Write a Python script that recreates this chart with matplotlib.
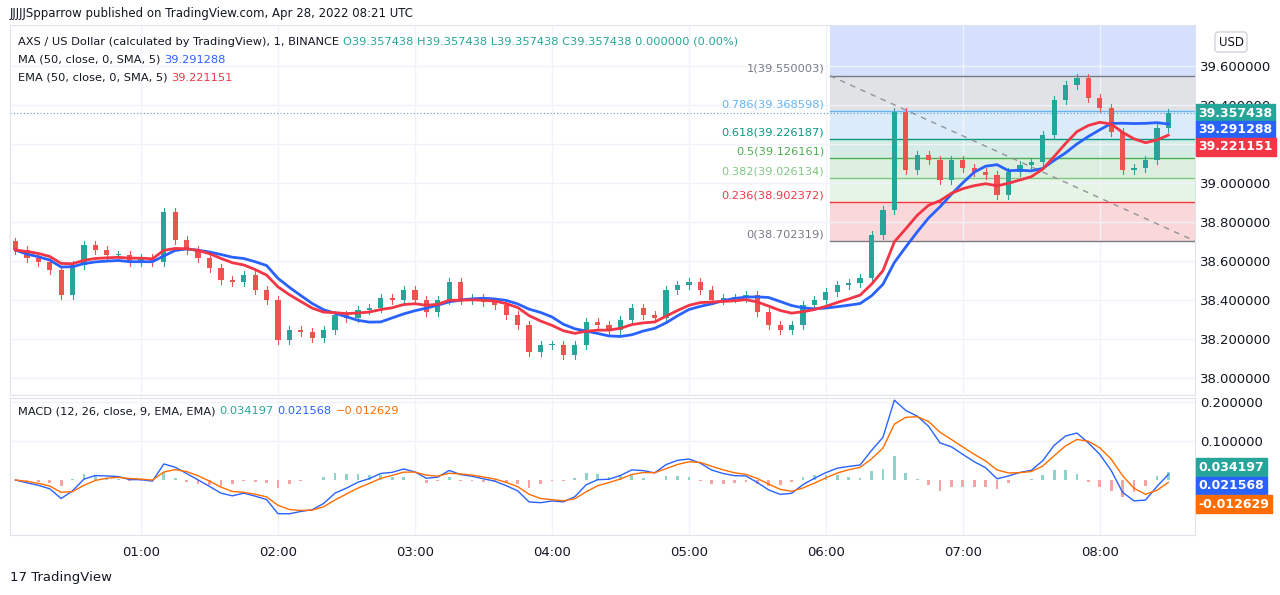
import numpy as np
import pandas as pd
import matplotlib
matplotlib.use("Agg")
import matplotlib.pyplot as plt

# ---- data (5-minute bars, minutes after 00:00) ----
closes = [38.656,38.615,38.595,38.554,38.426,38.579,38.682,38.656,38.631,38.631,38.595,38.615,
          38.595,38.851,38.708,38.656,38.615,38.564,38.503,38.492,38.528,38.451,38.400,38.195,
          38.246,38.236,38.205,38.246,38.323,38.308,38.349,38.359,38.410,38.400,38.451,38.400,
          38.338,38.400,38.492,38.400,38.410,38.390,38.374,38.323,38.272,38.133,38.169,38.169,
          38.118,38.169,38.287,38.272,38.246,38.297,38.359,38.323,38.308,38.451,38.477,38.492,
          38.451,38.400,38.410,38.410,38.426,38.338,38.272,38.246,38.272,38.374,38.400,38.441,
          38.477,38.487,38.513,38.733,38.862,39.364,39.067,39.144,39.118,39.015,39.118,39.077,
          39.056,39.041,38.938,39.056,39.092,39.108,39.246,39.426,39.503,39.538,39.436,39.385,
          39.262,39.067,39.077,39.118,39.282,39.357]
first_open = 38.700
hour_ticks = [60,120,180,240,300,360,420,480]
hour_labels = ["01:00","02:00","03:00","04:00","05:00","06:00","07:00","08:00"]
price_ticks = [38.0,38.2,38.4,38.6,38.8,39.0,39.2,39.4,39.6]
macd_ticks = [0.1,0.2]
fib_ratios = [1,0.786,0.618,0.5,0.382,0.236,0]
fib_prices = [39.550003,39.368598,39.226187,39.126161,39.026134,38.902372,38.702319]
last_vals = {"close":39.357438,"ma":39.291288,"ema":39.221151}
macd_last = [0.034197,0.021568,-0.012629]

n = len(closes)
mins = np.arange(1, n+1)*5.0
c = np.array(closes)
o = np.concatenate([[first_open], c[:-1]])

UP, DN = "#26a69a", "#ef5350"
BLUE, RED, ORANGE = "#2962ff", "#f23645", "#ff6d00"
GRID = "#f0f3fa"

s = pd.Series(c)
ma = s.rolling(10, min_periods=1).mean().values
ema = s.ewm(span=10, adjust=False).mean().values
macd = (s.ewm(span=4, adjust=False).mean() - s.ewm(span=8, adjust=False).mean()).values
sig = pd.Series(macd).ewm(span=3, adjust=False).mean().values
hist = macd - sig

fig = plt.figure(figsize=(12.8,5.95), dpi=100)
fig.patch.set_facecolor("white")
ax = fig.add_axes([10/1280, 1-395/595, 1185/1280, 370/595])
ax2 = fig.add_axes([10/1280, 1-535/595, 1185/1280, 137/595])
XL = (2.6, 521.7)

for a in (ax, ax2):
    a.set_xlim(*XL)
    for sp in a.spines.values():
        sp.set_color("#e0e3eb")
    a.yaxis.tick_right()
    a.tick_params(length=0, labelsize=9.5, colors="#131722")
    a.set_xticks(hour_ticks)
    a.grid(True, color=GRID, lw=1)
    a.set_axisbelow(True)
ax.set_xticklabels([])
ax2.set_xticklabels(hour_labels)
ax2.tick_params(axis="x", pad=8)
ax.set_ylim(37.913, 39.810)
ax.set_yticks(price_ticks)
ax.set_yticklabels([f"{v:.6f}" for v in price_ticks])
ax2.set_ylim(-0.141, 0.210)
ax2.set_yticks(macd_ticks)
ax2.set_yticklabels([f"{v:.6f}" for v in macd_ticks])

# fib retracement
fx0 = 361.8
fills = ["#e1e2e6","#dcebf9","#d5ece6","#dcefde","#e6f4e6","#fad8da"]
lcols = ["#787b86","#64b5f6","#089981","#4caf50","#81c784","#f23645","#787b86"]
ax.fill_between([fx0, XL[1]], fib_prices[0], 39.810, color="#d4e0fd", lw=0, zorder=0.5)
for i in range(6):
    ax.fill_between([fx0, XL[1]], fib_prices[i+1], fib_prices[i], color=fills[i], lw=0, zorder=0.5)
for r, p, lc in zip(fib_ratios, fib_prices, lcols):
    ax.plot([fx0, XL[1]], [p, p], color=lc, lw=1, zorder=1)
    ax.text(fx0-2.5, p+0.035, f"{r}({p:.6f})", color=lc, fontsize=8.2, ha="right", va="center")
ax.plot([fx0, XL[1]], [fib_prices[0], fib_prices[-1]], color="#909399", lw=1, ls=(0,(4,4)), zorder=1)

# candles
w = 2.3
for m, oo, cc in zip(mins, o, c):
    col = UP if cc >= oo else DN
    lo, hi = min(oo, cc), max(oo, cc)
    ax.plot([m, m], [lo-0.02, hi+0.02], color=col, lw=0.8, zorder=3)
    ax.bar(m, max(hi-lo, 0.004), bottom=lo, width=w, color=col, lw=0, zorder=3)
ax.plot(mins, ma, color=BLUE, lw=2, zorder=4)
ax.plot(mins, ema, color=RED, lw=2, zorder=4)
ax.axhline(last_vals["close"], color="#5b9cc8", lw=0.8, ls=(0,(1,2)), zorder=2)

def box(a, y, txt, col):
    a.text(1.003, y, txt, transform=a.get_yaxis_transform(), color="white", fontsize=9,
           fontweight="bold", ha="left", va="center", zorder=10,
           bbox=dict(boxstyle="square,pad=0.2", fc=col, ec=col))
box(ax, last_vals["close"], f"{last_vals['close']:.6f}", UP)
box(ax, 39.272, f"{last_vals['ma']:.6f}", BLUE)
box(ax, 39.185, f"{last_vals['ema']:.6f}", RED)

# MACD
hc = np.where(hist >= 0, "#8fd3cb", "#f5a3a3")
ax2.bar(mins, hist, width=1.2, color=hc, lw=0)
ax2.plot(mins, macd, color=BLUE, lw=1)
ax2.plot(mins, sig, color=ORANGE, lw=1)
box(ax2, 0.033, f"{macd_last[0]:.6f}", UP)
box(ax2, -0.015, f"{macd_last[1]:.6f}", BLUE)
box(ax2, -0.062, f"{macd_last[2]:.6f}", ORANGE)

# header texts (chained)
renderer = fig.canvas.get_renderer()
def chain(y, parts, x0=18, fs=8.2, gap=4):
    x = x0
    for txt, col in parts:
        t = fig.text(x/1280, 1-y/595, txt, fontsize=fs, color=col, va="center")
        bb = t.get_window_extent(renderer)
        x += bb.width + gap

fig.text(10/1280, 1-14/595, "JJJJJSpparrow published on TradingView.com, Apr 28, 2022 08:21 UTC",
         fontsize=8.5, color="#131722", va="center")
chain(42, [("AXS / US Dollar (calculated by TradingView), 1, BINANCE", "#131722"),
           ("O39.357438 H39.357438 L39.357438 C39.357438 0.000000 (0.00%)", UP)])
chain(60, [("MA (50, close, 0, SMA, 5)", "#131722"), ("39.291288", BLUE)])
chain(78, [("EMA (50, close, 0, SMA, 5)", "#131722"), ("39.221151", RED)])
chain(411, [("MACD (12, 26, close, 9, EMA, EMA)", "#131722"), ("0.034197", UP),
            ("0.021568", BLUE), ("\u22120.012629", ORANGE)])
fig.text(1231/1280, 1-42/595, "USD", fontsize=8.5, color="#131722", ha="center", va="center",
         bbox=dict(boxstyle="round,pad=0.3", fc="white", ec="#d1d4dc"))
fig.text(10/1280, 1-577/595, "17 TradingView", fontsize=9.5, color="#131722", va="center")

fig.savefig("out.png", dpi=100)
